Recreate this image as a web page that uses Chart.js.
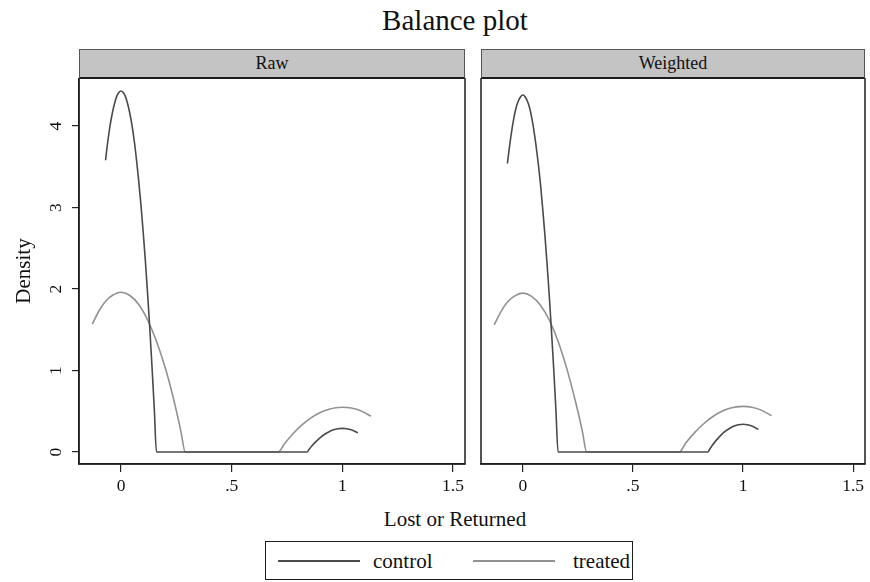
<!DOCTYPE html>
<html>
<head>
<meta charset="utf-8">
<title>Balance plot</title>
<script src="https://cdn.jsdelivr.net/npm/chart.js@4"></script>
<style>
  body { margin: 0; background: #fff; font-family: 'Liberation Serif', 'DejaVu Serif', serif; color: #111; }
  #page { position: relative; width: 870px; height: 582px; overflow: hidden; }
  .abs { position: absolute; }
  #title { left: 0; width: 910px; top: 2px; text-align: center; font-size: 29px; line-height: 36px; }
  .strip { top: 49px; height: 30px; box-sizing: border-box; background: #c4c4c4;
           border: 1.5px solid #555; border-bottom: 2px solid #1c1c1c;
           text-align: center; font-size: 18px; line-height: 26px; z-index: 2; }
  #xtitle { left: 0; width: 910px; top: 506px; text-align: center; font-size: 21px; line-height: 26px; }
  #legend { left: 265px; top: 541px; width: 368px; height: 39px; box-sizing: border-box; border: 1.5px solid #1c1c1c; }
  .key { position: absolute; top: 18px; width: 82px; height: 0; border-top: 2px solid; }
  .lab { position: absolute; top: 6px; font-size: 21px; line-height: 26px; }
</style>
</head>
<body>
<div id="page">
  <div id="title" class="abs">Balance plot</div>
  <div class="abs strip" style="left:79px; width:386px;">Raw</div>
  <div class="abs strip" style="left:481px; width:384px;">Weighted</div>
  <div class="abs" style="left:0; top:78px; width:475px; height:422px;">
    <canvas id="rawChart" width="475" height="422"></canvas>
  </div>
  <div class="abs" style="left:470px; top:78px; width:400px; height:422px;">
    <canvas id="weightedChart" width="400" height="422"></canvas>
  </div>
  <div id="xtitle" class="abs">Lost or Returned</div>
  <div id="legend" class="abs"></div>
</div>
<script>
// axis setup
const xMin = -0.19, xMax = 1.554;
const yMin = -0.147, yMax = 4.589;
const xTicks = [0, 0.5, 1, 1.5];
const xTickLabels = ['0', '.5', '1', '1.5'];
const yTicks = [0, 1, 2, 3, 4];

const seriesNames = ['control', 'treated'];
const seriesColors = ['#4a4a4a', '#919191'];

// control group density
const controlX = [-0.07, -0.06, -0.05, -0.04, -0.03, -0.02, -0.01, 0, 0.01, 0.02, 0.03, 0.04,
  0.05, 0.06, 0.07, 0.08, 0.09, 0.10, 0.11, 0.12, 0.13, 0.14, 0.15, 0.16,
  0.84, 0.85, 0.86, 0.88, 0.90, 0.92, 0.94, 0.96, 0.98, 1.00, 1.02, 1.04, 1.06, 1.07];
const rawControl = [3.58, 3.81, 4.00, 4.15, 4.27, 4.36, 4.41, 4.43, 4.41, 4.36, 4.27, 4.15,
  4.00, 3.81, 3.58, 3.32, 3.03, 2.70, 2.34, 1.94, 1.51, 1.04, 0.54, 0,
  0, 0.035, 0.068, 0.127, 0.177, 0.218, 0.249, 0.272, 0.285, 0.29, 0.285, 0.272, 0.249, 0.235];
const weightedControl = [3.54, 3.76, 3.95, 4.11, 4.23, 4.31, 4.36, 4.38, 4.36, 4.31, 4.23, 4.11,
  3.95, 3.76, 3.54, 3.29, 2.99, 2.67, 2.31, 1.92, 1.49, 1.03, 0.53, 0,
  0, 0.041, 0.080, 0.149, 0.207, 0.255, 0.292, 0.319, 0.335, 0.34, 0.335, 0.319, 0.292, 0.276];

// treated group density
const treatedX = [-0.13, -0.10, -0.07, -0.04, 0, 0.04, 0.08, 0.12, 0.16, 0.20, 0.24, 0.27, 0.29,
  0.71, 0.74, 0.78, 0.82, 0.86, 0.90, 0.94, 0.97, 1.00, 1.04, 1.08, 1.13];
const rawTreated = [1.57, 1.73, 1.85, 1.92, 1.96, 1.92, 1.81, 1.62, 1.36, 1.03, 0.62, 0.26, 0,
  0, 0.108, 0.233, 0.338, 0.422, 0.485, 0.526, 0.544, 0.55, 0.54, 0.508, 0.44];
const weightedTreated = [1.56, 1.72, 1.84, 1.91, 1.95, 1.91, 1.80, 1.62, 1.36, 1.02, 0.61, 0.26, 0,
  0, 0.110, 0.238, 0.344, 0.430, 0.493, 0.536, 0.554, 0.56, 0.549, 0.517, 0.447];

const serif = 'Liberation Serif';
const ink = '#111';

// box around the plot region, like Stata draws it
const framePlugin = {
  id: 'frame',
  afterDraw(chart) {
    const { ctx, chartArea: a } = chart;
    ctx.save();
    ctx.strokeStyle = '#1c1c1c';
    ctx.lineWidth = 1.5;
    ctx.strokeRect(a.left, a.top, a.right - a.left, a.bottom - a.top);
    ctx.restore();
  }
};

function pairs(xs, ys) {
  return xs.map((x, i) => ({ x: x, y: ys[i] }));
}

function makePanel(id, controlY, treatedY, showY, padding) {
  const ctx = document.getElementById(id).getContext('2d');
  return new Chart(ctx, {
    type: 'scatter',
    data: {
      datasets: [
        { label: seriesNames[0], data: pairs(controlX, controlY), borderColor: seriesColors[0] },
        { label: seriesNames[1], data: pairs(treatedX, treatedY), borderColor: seriesColors[1] }
      ]
    },
    options: {
      responsive: false,
      animation: false,
      showLine: true,
      elements: {
        point: { radius: 0, hoverRadius: 0 },
        line: { borderWidth: 1.6, cubicInterpolationMode: 'monotone' }
      },
      layout: { padding: padding },
      plugins: { legend: { display: false }, tooltip: { enabled: false } },
      events: [],
      scales: {
        x: {
          type: 'linear',
          min: xMin, max: xMax,
          afterFit: s => { s.height = 36; s.paddingLeft = 0; s.paddingRight = 0; },
          afterBuildTicks: s => { s.ticks = xTicks.map(v => ({ value: v })); },
          grid: { drawOnChartArea: false, tickLength: 8, tickColor: '#222', lineWidth: 1.2 },
          border: { display: true, color: '#222', width: 1.5 },
          ticks: {
            padding: 4, maxRotation: 0, autoSkip: false, color: ink,
            font: { family: serif, size: 17.5 },
            callback: (v, i) => xTickLabels[i]
          }
        },
        y: {
          display: showY,
          min: yMin, max: yMax,
          afterFit: s => {
            s.width = showY ? 79 : 0;
            s.paddingTop = 0;
            s.paddingBottom = 0;
          },
          afterBuildTicks: s => { s.ticks = yTicks.map(v => ({ value: v })); },
          grid: { drawOnChartArea: false, tickLength: 7, tickColor: '#222', lineWidth: 1.2 },
          border: { display: true, color: '#222', width: 1.5 },
          ticks: {
            minRotation: 90, maxRotation: 90, crossAlign: 'center', padding: 11,
            color: ink, font: { family: serif, size: 17.5 },
            callback: v => String(v)
          },
          title: {
            display: true, text: 'Density', color: ink,
            font: { family: serif, size: 21 },
            padding: { top: 12, bottom: 0 }
          }
        }
      }
    },
    plugins: [framePlugin]
  });
}

makePanel('rawChart', rawControl, rawTreated, true, { left: 0, right: 10, top: 0, bottom: 0 });
makePanel('weightedChart', weightedControl, weightedTreated, false, { left: 11, right: 5, top: 0, bottom: 0 });

// legend box under both panels
const legend = document.getElementById('legend');
const keyLeft = [12, 207];
const labLeft = [107, 307];
seriesNames.forEach((name, i) => {
  const key = document.createElement('div');
  key.className = 'key';
  key.style.left = keyLeft[i] + 'px';
  key.style.borderTopColor = seriesColors[i];
  legend.appendChild(key);
  const lab = document.createElement('div');
  lab.className = 'lab';
  lab.style.left = labLeft[i] + 'px';
  lab.textContent = name;
  legend.appendChild(lab);
});
</script>
</body>
</html>
